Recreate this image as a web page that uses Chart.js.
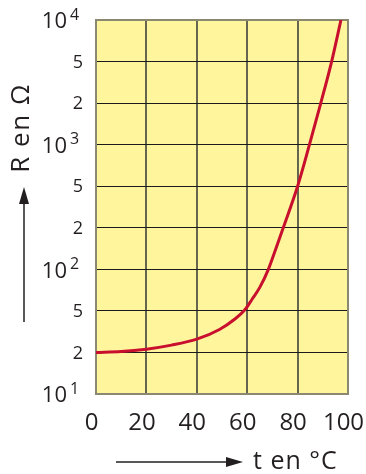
<!DOCTYPE html>
<html>
<head>
<meta charset="utf-8">
<script src="https://cdn.jsdelivr.net/npm/chart.js@4.4.0/dist/chart.umd.min.js"></script>
<style>
  html, body { margin: 0; padding: 0; background: #fff; }
  #wrap { width: 366px; height: 474px; }
</style>
</head>
<body>
<div id="wrap"><canvas id="chart" width="366" height="474"></canvas></div>
<script>
// temperature (°C) and resistance (ohm)
const temps = [0, 10, 20, 30, 40, 49, 55, 59, 62, 65, 68.4, 71.3, 74.3, 80, 84.7, 89.2, 93.5, 97.2];
const resistance = [20, 20.4, 21.5, 23.5, 26.8, 33.2, 41.6, 50.7, 61, 74, 100, 140, 200, 500, 1000, 2000, 5000, 10000];
const xTicks = [0, 20, 40, 60, 80, 100];
const yTicks = [10, 20, 50, 100, 200, 500, 1000, 2000, 5000, 10000];

const FONT = "'Open Sans', 'DejaVu Sans', sans-serif";
const INK = "#231f20";

// the grid puts 1-2-5 at equal steps, so map R onto grid step index
function toStep(r) {
  for (let i = 0; i < yTicks.length - 1; i++) {
    if (r <= yTicks[i + 1]) {
      return i + Math.log(r / yTicks[i]) / Math.log(yTicks[i + 1] / yTicks[i]);
    }
  }
  return yTicks.length - 1;
}

const points = temps.map((t, i) => ({ x: t, y: toStep(resistance[i]) }));

const decor = {
  id: "decor",
  beforeDraw(chart) {
    const { ctx, chartArea: a } = chart;
    ctx.save();
    ctx.fillStyle = "#fff59d";
    ctx.fillRect(a.left, a.top, a.right - a.left, a.bottom - a.top);
    ctx.restore();
  },
  beforeDatasetsDraw(chart) {
    const { ctx, chartArea: a } = chart;
    ctx.save();
    ctx.strokeStyle = "#8a8870";
    ctx.lineWidth = 2;
    ctx.strokeRect(a.left, a.top, a.right - a.left, a.bottom - a.top);
    ctx.restore();
  },
  afterDraw(chart) {
    const { ctx } = chart;
    const ys = chart.scales.y;
    ctx.save();
    ctx.fillStyle = INK;
    ctx.strokeStyle = INK;

    // y tick labels
    yTicks.forEach((v, i) => {
      const y = ys.getPixelForValue(i);
      const exp = Math.floor(Math.log10(v) + 1e-9);
      ctx.textBaseline = "middle";
      if (i % 3 === 0) {
        ctx.font = "22px " + FONT;
        ctx.textAlign = "right";
        ctx.fillText("10", 67, y + 2);
        ctx.font = "16px " + FONT;
        ctx.textAlign = "left";
        ctx.fillText(String(exp), 70, y - 5);
      } else {
        ctx.font = "18px " + FONT;
        ctx.textAlign = "right";
        ctx.fillText(String(Math.round(v / Math.pow(10, exp))), 83, y + 1);
      }
    });

    // y axis title with arrow
    ctx.save();
    ctx.translate(22, 128);
    ctx.rotate(-Math.PI / 2);
    ctx.font = "26px " + FONT;
    ctx.letterSpacing = "1.5px";
    ctx.textAlign = "center";
    ctx.textBaseline = "middle";
    ctx.fillText("R en \u03A9", 0, 0);
    ctx.restore();

    ctx.lineWidth = 1.5;
    ctx.beginPath();
    ctx.moveTo(24, 322);
    ctx.lineTo(24, 200);
    ctx.stroke();
    ctx.beginPath();
    ctx.moveTo(24, 187);
    ctx.lineTo(19, 204);
    ctx.lineTo(29, 204);
    ctx.closePath();
    ctx.fill();

    // x axis title with arrow
    ctx.beginPath();
    ctx.moveTo(116, 462);
    ctx.lineTo(230, 462);
    ctx.stroke();
    ctx.beginPath();
    ctx.moveTo(243, 462);
    ctx.lineTo(226, 457);
    ctx.lineTo(226, 467);
    ctx.closePath();
    ctx.fill();

    ctx.font = "25px " + FONT;
    ctx.letterSpacing = "1px";
    ctx.textAlign = "left";
    ctx.textBaseline = "alphabetic";
    ctx.fillText("t en \u00B0C", 253, 469);
    ctx.restore();
  }
};

new Chart(document.getElementById("chart"), {
  type: "line",
  data: {
    datasets: [{
      data: points,
      borderColor: "#c8102e",
      borderWidth: 3,
      pointRadius: 0,
      cubicInterpolationMode: "monotone",
      fill: false
    }]
  },
  options: {
    responsive: false,
    animation: false,
    devicePixelRatio: 1,
    layout: { padding: { top: 20, right: 18, left: 0, bottom: 0 } },
    plugins: { legend: { display: false }, tooltip: { enabled: false } },
    scales: {
      x: {
        type: "linear",
        min: 0,
        max: 100,
        afterBuildTicks: (s) => { s.ticks = xTicks.map((v) => ({ value: v })); },
        afterFit: (s) => { s.height = 80; s.paddingLeft = 0; s.paddingRight = 0; },
        ticks: { color: INK, font: { family: FONT, size: 24 }, padding: 15, labelOffset: -4.5 },
        grid: { color: "#66654f", lineWidth: 2, drawTicks: false },
        border: { display: false }
      },
      y: {
        type: "linear",
        min: 0,
        max: yTicks.length - 1,
        afterBuildTicks: (s) => { s.ticks = yTicks.map((v, i) => ({ value: i })); },
        afterFit: (s) => { s.width = 96; s.paddingTop = 0; s.paddingBottom = 0; },
        ticks: { display: false },
        grid: { color: "#1a1a1a", lineWidth: 1, drawTicks: false },
        border: { display: false }
      }
    }
  },
  plugins: [decor]
});
</script>
</body>
</html>
